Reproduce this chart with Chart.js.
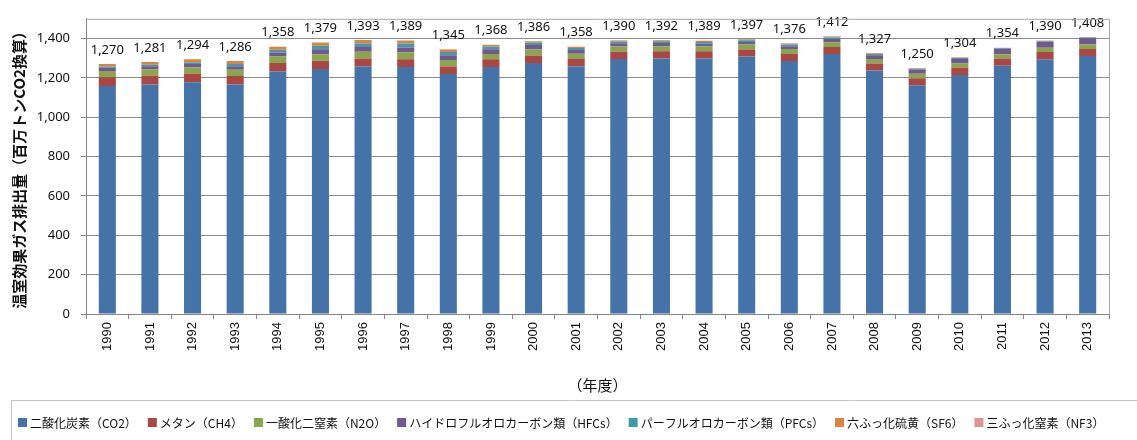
<!DOCTYPE html>
<html lang="ja">
<head>
<meta charset="utf-8">
<script src="https://cdn.jsdelivr.net/npm/chart.js@4.4.1/dist/chart.umd.min.js"></script>
<style>
  body { margin: 0; background: #fff; }
  canvas { display: block; }
</style>
</head>
<body>
<canvas id="ghg-chart" width="1137" height="440"></canvas>
<script>
/* data (百万トンCO2換算) */
const years = ["1990", "1991", "1992", "1993", "1994", "1995", "1996", "1997", "1998", "1999", "2000", "2001",
               "2002", "2003", "2004", "2005", "2006", "2007", "2008", "2009", "2010", "2011", "2012", "2013"]

const co2  = [1159, 1166, 1177, 1166, 1232, 1245, 1257, 1255, 1219, 1255, 1276, 1258,
              1296, 1298, 1298, 1308, 1285, 1321, 1237, 1162, 1215, 1262, 1295, 1311]
const ch4  = [44, 44, 44, 43, 43, 42, 41, 40, 39, 39, 38, 38, 37, 37, 37, 36, 36, 36, 36, 36, 36, 36, 36, 36]
const n2o  = [32, 32, 32, 32, 33, 33, 34, 35, 33, 27, 30, 26, 26, 26, 26, 25, 25, 24, 23, 23, 22, 22, 22, 22]
const hfcs = [15.9, 17.3, 17.8, 18.1, 21.1, 25.2, 24.6, 24.4, 23.7, 24.4, 22.9, 19.5,
              16.2, 16.2, 12.4, 12.8, 14.6, 16.7, 19.3, 20.9, 23.3, 26.1, 29.4, 32.1]
const pfcs = [6.5, 7.5, 7.6, 10.9, 13.4, 17.6, 18.3, 20.1, 16.4, 13.3, 11.9, 9.9,
              9.2, 8.9, 9.2, 8.6, 9.0, 7.9, 5.7, 4.0, 4.2, 3.8, 3.4, 3.3]
const sf6  = [12.9, 14.2, 15.6, 15.7, 15.0, 16.4, 17.5, 14.8, 13.4, 9.1, 7.0, 6.1,
              5.7, 5.4, 5.3, 5.1, 5.2, 4.7, 4.2, 2.4, 2.4, 2.2, 2.2, 2.1]
const nf3  = [0.03, 0.03, 0.04, 0.06, 0.08, 0.2, 0.2, 0.2, 0.2, 0.3, 0.3, 0.3,
              0.3, 0.4, 0.9, 1.2, 1.3, 1.5, 1.4, 1.5, 1.5, 1.4, 1.5, 1.4]

/* totals printed above the bars */
const totals = [1270, 1281, 1294, 1286, 1358, 1379, 1393, 1389, 1345, 1368, 1386, 1358,
                1390, 1392, 1389, 1397, 1376, 1412, 1327, 1250, 1304, 1354, 1390, 1408]

const yTicks = [0, 200, 400, 600, 800, 1000, 1200, 1400]

const fmt = (v) => v.toLocaleString("en-US")

/* ---- plugins ---- */

// top / right edges of the plot frame
const plotFrame = {
    id: "plotFrame",
    afterDraw(chart) {
        const { ctx, chartArea: a } = chart
        ctx.save()
        ctx.strokeStyle = "#a6a6a6"
        ctx.lineWidth = 1
        ctx.beginPath()
        ctx.moveTo(a.left, a.top + 0.5)
        ctx.lineTo(a.right + 0.5, a.top + 0.5)
        ctx.lineTo(a.right + 0.5, a.bottom)
        ctx.stroke()
        ctx.restore()
    }
}

// total labels above each stack
const totalLabels = {
    id: "totalLabels",
    afterDatasetsDraw(chart) {
        const { ctx, scales } = chart
        ctx.save()
        ctx.font = "13px 'Noto Sans'"
        ctx.fillStyle = "#111"
        ctx.textAlign = "center"
        ctx.textBaseline = "middle"
        totals.forEach((t, i) => {
            const x = scales.x.getPixelForValue(i)
            const y = scales.y.getPixelForValue(t)
            ctx.fillText(fmt(t), x, y - 14)
        })
        ctx.restore()
    }
}

// legend row with its frame at the bottom
const legendRow = {
    id: "legendRow",
    afterDraw(chart) {
        const { ctx, width } = chart
        ctx.save()
        ctx.strokeStyle = "#c4c4c4"
        ctx.lineWidth = 1
        ctx.beginPath()
        ctx.moveTo(11.5, chart.height)
        ctx.lineTo(11.5, 400.5)
        ctx.lineTo(width, 400.5)
        ctx.stroke()

        ctx.font = "12px 'Noto Sans CJK JP'"
        ctx.textBaseline = "middle"
        let x = 18
        for (const ds of chart.data.datasets) {
            ctx.fillStyle = ds.backgroundColor
            ctx.fillRect(x, 418, 9, 9)
            ctx.fillStyle = "#111"
            ctx.fillText(ds.label, x + 12, 423)
            x += 12 + ctx.measureText(ds.label).width + 11
        }
        ctx.restore()
    }
}

/* ---- chart ---- */

const series = [
    { label: "二酸化炭素（CO2）", data: co2, color: "#4572a7" },
    { label: "メタン（CH4）", data: ch4, color: "#aa4643" },
    { label: "一酸化二窒素（N2O）", data: n2o, color: "#89a54e" },
    { label: "ハイドロフルオロカーボン類（HFCs）", data: hfcs, color: "#71588f" },
    { label: "パーフルオロカーボン類（PFCs）", data: pfcs, color: "#4198af" },
    { label: "六ふっ化硫黄（SF6）", data: sf6, color: "#db843d" },
    { label: "三ふっ化窒素（NF3）", data: nf3, color: "#d99694" }
]

const data = {
    labels: years,
    datasets: series.map(s => ({
        label: s.label,
        data: s.data,
        backgroundColor: s.color,
        borderWidth: 0,
        barPercentage: 0.4,
        categoryPercentage: 1
    }))
}

const config = {
    type: "bar",
    data: data,
    options: {
        responsive: false,
        animation: false,
        devicePixelRatio: 1,
        layout: { padding: { top: 10, right: 28, left: 0, bottom: 0 } },
        plugins: {
            legend: { display: false },
            tooltip: { enabled: false }
        },
        scales: {
            x: {
                stacked: true,
                afterFit: (s) => { s.height = 126 },
                border: { color: "#868686" },
                grid: {
                    offset: true,
                    drawOnChartArea: false,
                    drawTicks: true,
                    tickLength: 5,
                    tickColor: "#868686"
                },
                ticks: {
                    minRotation: 90,
                    maxRotation: 90,
                    padding: 3,
                    color: "#111",
                    font: { family: "'Liberation Sans'", size: 13 }
                },
                title: {
                    display: true,
                    text: "（年度）",
                    color: "#111",
                    padding: { bottom: 46, top: 0 },
                    font: { family: "'Noto Sans CJK JP'", size: 15 }
                }
            },
            y: {
                stacked: true,
                min: 0,
                max: 1500,
                afterFit: (s) => { s.width = 86 },
                afterBuildTicks: (s) => { s.ticks = yTicks.map(v => ({ value: v })) },
                border: { color: "#868686" },
                grid: {
                    color: "#8c8c8c",
                    borderDash: [1, 2],
                    tickLength: 5,
                    tickColor: "#868686",
                    tickBorderDash: []
                },
                ticks: {
                    padding: 11,
                    color: "#111",
                    font: { family: "'Noto Sans'", size: 13 },
                    callback: (v) => fmt(v)
                },
                title: {
                    display: true,
                    text: "温室効果ガス排出量（百万トンCO2換算）",
                    color: "#111",
                    padding: { top: 10, bottom: 0 },
                    font: { family: "'Noto Sans CJK JP'", size: 15, weight: "bold" }
                }
            }
        }
    },
    plugins: [plotFrame, totalLabels, legendRow]
}

const ghgChart = new Chart(document.querySelector("#ghg-chart"), config)
</script>
</body>
</html>
